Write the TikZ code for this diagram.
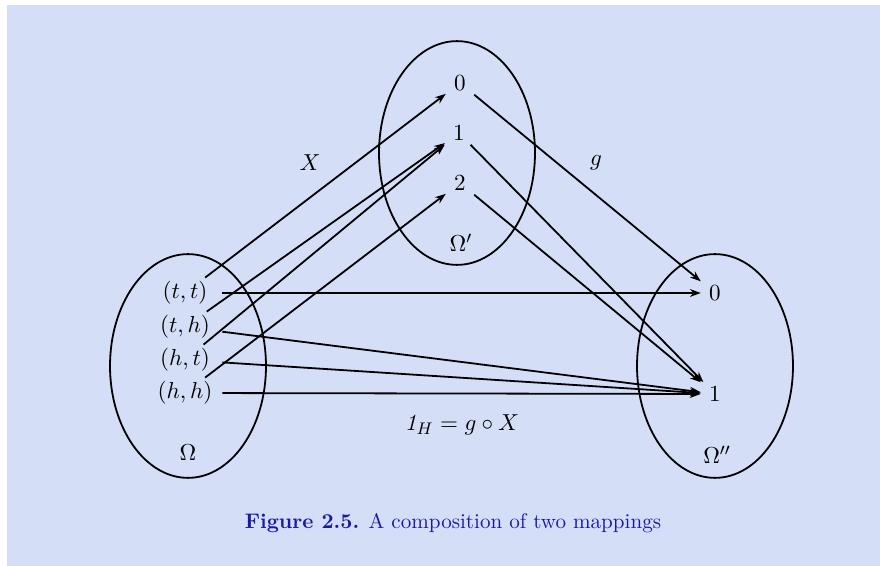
\documentclass[tikz,border=0pt,11pt]{standalone}
\usepackage{amsmath,amssymb}
\usepackage{tikz}
\usetikzlibrary{positioning, arrows.meta, shapes.geometric}
\definecolor{bgblue}{RGB}{213,222,247}
\definecolor{capblue}{RGB}{25,25,165}

\begin{document}
\begin{tikzpicture}[
    x=0.1667mm, y=-0.1667mm,
    set/.style={draw, ellipse, line width=0.85pt, minimum width=26mm,
                minimum height=37.3mm, inner sep=0pt},
    pair/.style={minimum width=12.3mm, minimum height=5mm, inner sep=0pt},
    elem/.style={minimum width=4.6mm, minimum height=3.8mm, inner sep=0pt},
    arr/.style={-{Stealth[length=1.8mm, width=1.3mm, inset=0.6mm]}, line width=0.85pt},
    maplbl/.style={inner sep=1pt},
]
% frame
\useasboundingbox (0,0) rectangle (880,566);
\fill[bgblue] (7,5) rectangle (880,566);

% the three sets
\node[set] (omega) at (188,366) {};
\node[set] (omegap) at (457,153) {};
\node[set] (omegapp) at (715,366) {};
\node (lomega) at (188,453) {$\Omega$};
\node (lomegap) at (461,243) {$\Omega'$};
\node (lomegapp) at (717,455) {$\Omega''$};

% outcomes in Omega
\node[pair] (tt) at (185,293) {$(t,t)$};
\node[pair] (th) at (185,327) {$(t,h)$};
\node[pair] (ht) at (185,360) {$(h,t)$};
\node[pair] (hh) at (185,393) {$(h,h)$};

% values of X
\node[elem] (m0) at (460,83) {$0$};
\node[elem] (m1) at (459,133) {$1$};
\node[elem] (m2) at (460,183) {$2$};

% values of g
\node[elem] (r0) at (715,293) {$0$};
\node[elem] (r1) at (715,394) {$1$};

% X : Omega -> Omega'
\draw[arr] (tt) -- (m0);
\draw[arr] (th) -- (m1);
\draw[arr] (ht) -- (m1);
\draw[arr] (hh) -- (m2);

% g : Omega' -> Omega''
\draw[arr] (m0) -- (r0);
\draw[arr] (m1) -- (r1);
\draw[arr] (m2) -- (r1);

% composition
\draw[arr] (tt) -- (r0);
\draw[arr] (th) -- (r1);
\draw[arr] (ht) -- (r1);
\draw[arr] (hh) -- (r1);

% map labels
\node[maplbl] (lX) at (310,163) {$X$};
\node[maplbl] (lg) at (596,163) {$g$};
\node[maplbl] (lcomp) at (462,425) {$\mathit{1}_H = g\circ X$};

% caption
\node[text=capblue, font=\small] (caption) at (453,523) {\textbf{Figure 2.5.} A composition of two mappings};

\end{tikzpicture}
\end{document}
